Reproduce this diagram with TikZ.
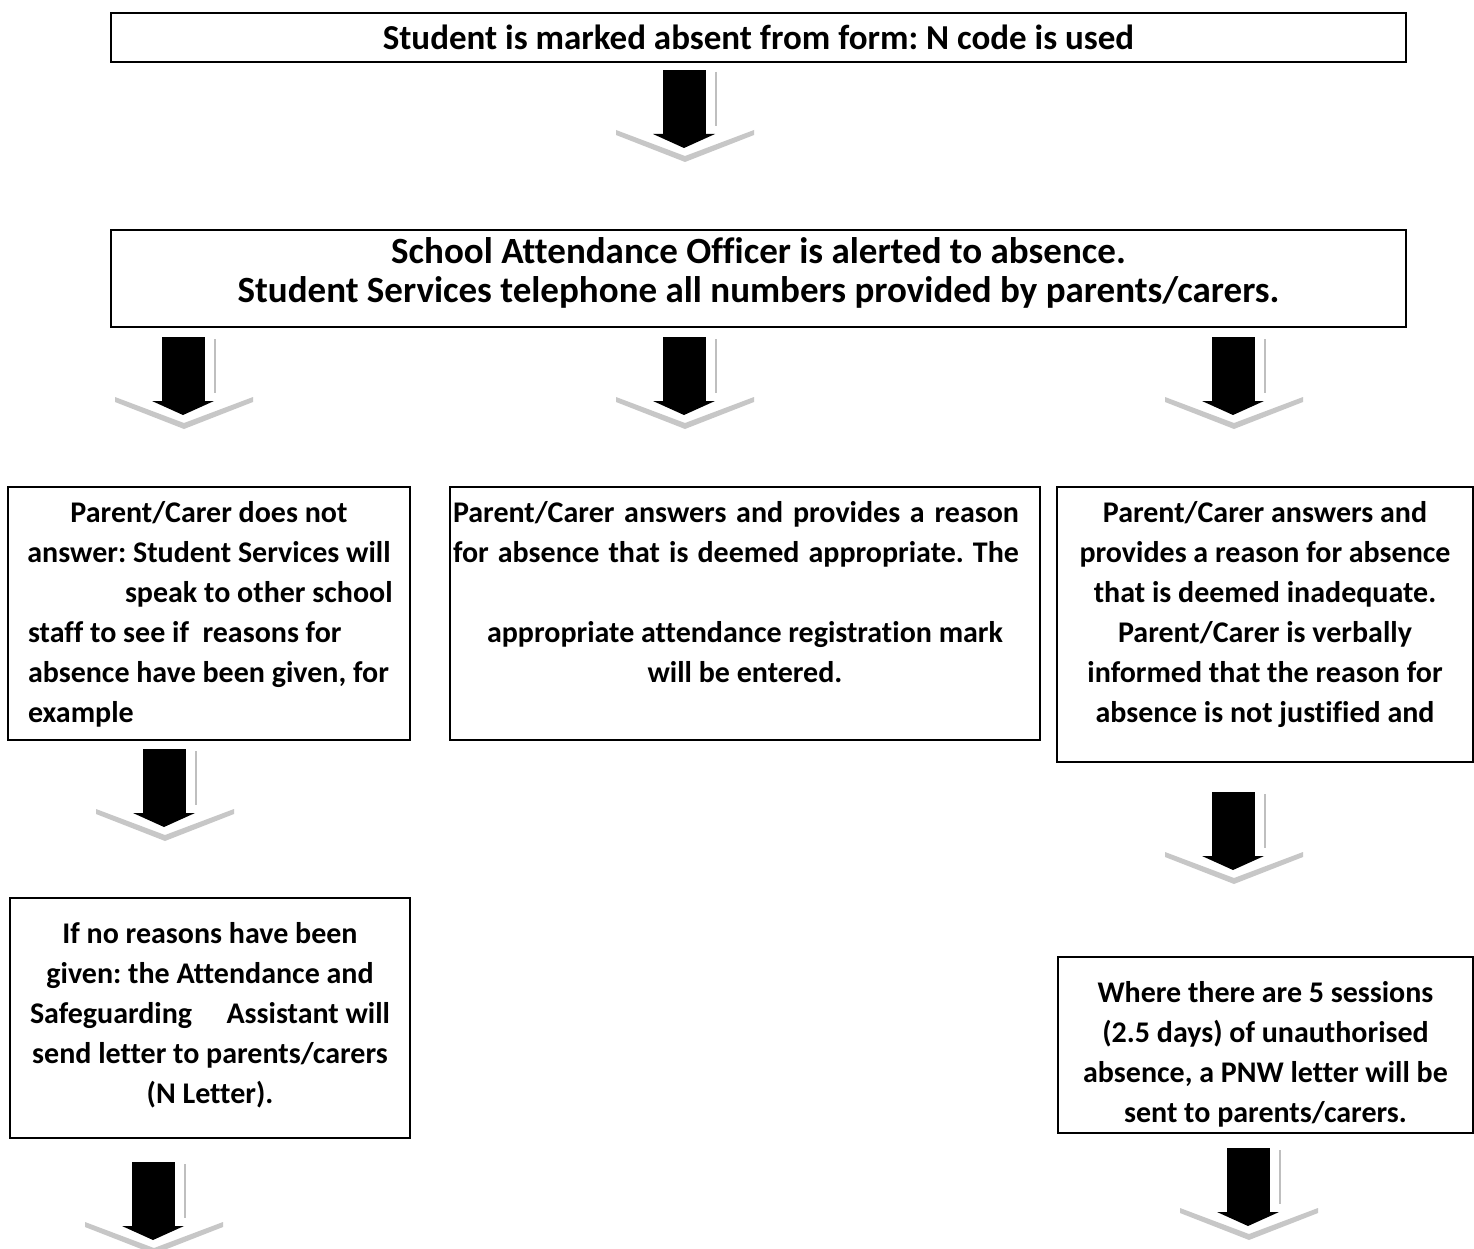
\documentclass[tikz,border=0pt]{standalone}
\usepackage{fontspec}
\setmainfont{Carlito}[Ligatures=NoCommon]
\usetikzlibrary{calc}

% lines of a box: height, width, gap above first line, text
\newcommand{\boxlines}[4]{\parbox[c][#1][t]{#2}{\centering\vspace*{#3}\strut#4}}

\tikzset{
  flow/.style={draw, line width=2pt, inner xsep=20pt, inner ysep=0pt, outer sep=0pt,
    anchor=north west, font=\fontsize{30}{40}\selectfont\bfseries\frenchspacing},
  headbox/.style={draw, line width=2pt, inner sep=0pt, outer sep=0pt, anchor=north west,
    minimum width=1295pt, align=center},
  downarrow/.pic={
    \fill[black!22] (-68,60) -- (1,86) -- (70,60) -- (70,65) -- (1,92) -- (-68,65) -- cycle;
    \draw[black!25, line width=1.5pt] (32,2) -- (32,56);
    \fill (-21,0) rectangle (22,65);
    \fill (-31,64) -- (31,64) -- (0,78) -- cycle;
  }
}

\begin{document}
\begin{tikzpicture}[x=1pt, y=-1pt]
\fill[white] (0,0) rectangle (1474,1249);
\useasboundingbox (0,0) rectangle (1474,1249);

\node[headbox, minimum height=49pt, font=\fontsize{35}{40}\selectfont\bfseries\frenchspacing] (start) at (111,13)
  {Student is marked absent from form: N code is used};
\node[flow, inner xsep=0pt, font=\fontsize{37}{37}\selectfont\bfseries\frenchspacing] (alert) at (111,230)
  {\boxlines{97pt}{1295pt}{8pt}{%
  School Attendance Officer is alerted to absence.\\
  Student Services telephone all numbers provided by parents/carers.}};

\node[flow] (noanswer) at (8,487) {\boxlines{253pt}{362pt}{7pt}{%
  Parent/Carer does not\\
  \makebox[\linewidth][c]{answer: Student Services will}\\
  \makebox[\linewidth][l]{\hspace*{97pt}speak to other school}\\
  \makebox[\linewidth][l]{staff to see if\ \ reasons for}\\
  \makebox[\linewidth][l]{absence have been given, for}\\
  \makebox[\linewidth][l]{example}}};
\node[flow, inner xsep=3pt] (reason) at (450,487) {\boxlines{253pt}{584pt}{7pt}{%
  \makebox[\linewidth][l]{\makebox[566pt][s]{Parent/Carer answers and provides a reason}}\\
  \makebox[\linewidth][l]{\makebox[566pt][s]{for absence that is deemed appropriate. The}}\\[40pt]
  appropriate attendance registration mark\\
  will be entered.}};
\node[flow] (inadequate) at (1057,487) {\boxlines{275pt}{376pt}{7pt}{%
  Parent/Carer answers and\\
  provides a reason for absence\\
  that is deemed inadequate.\\
  Parent/Carer is verbally\\
  informed that the reason for\\
  absence is not justified and}};
\node[flow] (nletter) at (10,898) {\boxlines{240pt}{360pt}{17pt}{%
  If no reasons have been\\
  given: the Attendance and\\
  \makebox[\linewidth][s]{Safeguarding\hfill Assistant will}\\
  send letter to parents/carers\\
  (N Letter).}};
\node[flow] (pnw) at (1058,957) {\boxlines{176pt}{375pt}{17pt}{%
  Where there are 5 sessions\\
  (2.5 days) of unauthorised\\
  absence, a PNW letter will be\\
  sent to parents/carers.}};

% block arrows
\pic at ($(start.south)+(-74.5,8)$) {downarrow};
\pic at ($(alert.south west)+(72,10)$) {downarrow};
\pic at ($(alert.south)+(-74.5,10)$) {downarrow};
\pic at ($(alert.south east)+(-173,10)$) {downarrow};
\pic at ($(noanswer.south)+(-45,9)$) {downarrow};
\pic at ($(inadequate.south)+(-32,30)$) {downarrow};
\pic at ($(nletter.south)+(-57,24)$) {downarrow};
\pic at ($(pnw.south)+(-17.5,15)$) {downarrow};
\end{tikzpicture}
\end{document}
